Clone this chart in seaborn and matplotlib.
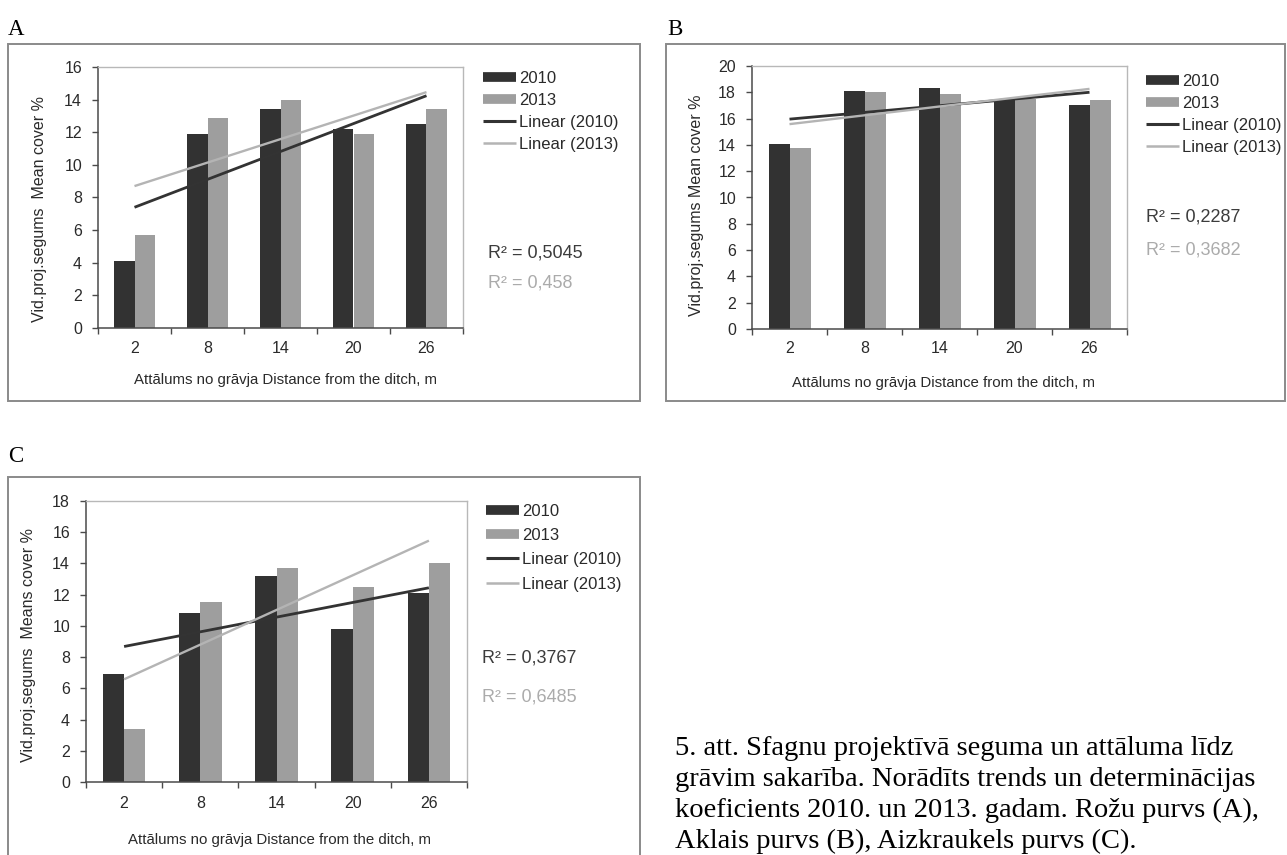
import numpy as np
import pandas as pd
import matplotlib
matplotlib.use("Agg")
import matplotlib.pyplot as plt
from matplotlib.lines import Line2D
from matplotlib.patches import Rectangle
import seaborn as sns

# ---- data -------------------------------------------------------------
distances = ["2", "8", "14", "20", "26"]
years = ["2010", "2013"]

rozu_2010 = [4.1, 11.9, 13.4, 12.2, 12.5]
rozu_2013 = [5.7, 12.9, 14.0, 11.9, 13.4]
aklais_2010 = [14.1, 18.1, 18.3, 17.4, 17.0]
aklais_2013 = [13.8, 18.0, 17.9, 17.5, 17.4]
aizkr_2010 = [6.9, 10.8, 13.2, 9.8, 12.1]
aizkr_2013 = [3.4, 11.5, 13.7, 12.5, 14.0]

r2_rozu = ["0,5045", "0,458"]
r2_aklais = ["0,2287", "0,3682"]
r2_aizkr = ["0,3767", "0,6485"]

ylabel_rozu = "Vid.proj.segums  Mean cover %"
ylabel_aklais = "Vid.proj.segums Mean cover %"
ylabel_aizkr = "Vid.proj.segums  Means cover %"
xlabel_text = "Attālums no grāvja Distance from the ditch, m"
legend_labels = ["2010", "2013", "Linear (2010)", "Linear (2013)"]
panel_letters = ["A", "B", "C"]
caption_lines = [
    "5. att. Sfagnu projektīvā seguma un attāluma līdz",
    "grāvim sakarība. Norādīts trends un determinācijas",
    "koeficients 2010. un 2013. gadam. Rožu purvs (A),",
    "Aklais purvs (B), Aizkraukels purvs (C).",
]

# ---- style ------------------------------------------------------------
sns.set_theme(style="white")
plt.rcParams["font.family"] = ["Liberation Sans", "DejaVu Sans"]

W, H = 1287, 855
DPI = 100
BAR_COLORS = ["#323232", "#9e9e9e"]
LINE_COLORS = ["#333333", "#b4b4b4"]
R2_COLORS = ["#3c3c3c", "#ababab"]
TEXT_COLOR = "#2a2a2a"


def fx(px):
    return px / W


def fy(py):
    return 1 - py / H


fig = plt.figure(figsize=(W / DPI, H / DPI), dpi=DPI)
fig.patch.set_facecolor("white")

panels = [
    dict(v2010=rozu_2010, v2013=rozu_2013, r2=r2_rozu, ylabel=ylabel_rozu,
         plot=(98, 67, 463, 328), ymax=16, box=(8, 44, 640, 401),
         letter=(8, 35), legend=(483, 71), legend_sp=0.42,
         r2pos=(488, 253, 283), ylab=(40, 209), xlab=(286, 380), xpad=9.5),
    dict(v2010=aklais_2010, v2013=aklais_2013, r2=r2_aklais, ylabel=ylabel_aklais,
         plot=(752, 66, 1127, 329), ymax=20, box=(666, 44, 1285, 401),
         letter=(667, 35), legend=(1146, 74), legend_sp=0.42,
         r2pos=(1146, 217, 250), ylab=(696, 205), xlab=(943, 383), xpad=8.5),
    dict(v2010=aizkr_2010, v2013=aizkr_2013, r2=r2_aizkr, ylabel=ylabel_aizkr,
         plot=(86, 501, 467, 782), ymax=18, box=(8, 477, 640, 870),
         letter=(8, 462), legend=(486, 504), legend_sp=0.55,
         r2pos=(482, 658, 697), ylab=(29, 645), xlab=(280, 840), xpad=10),
]

for letter, p in zip(panel_letters, panels):
    # outer frame of the chart
    bx0, by0, bx1, by1 = p["box"]
    fig.add_artist(Rectangle((fx(bx0), fy(by1)), (bx1 - bx0) / W, (by1 - by0) / H,
                             transform=fig.transFigure, fill=False,
                             edgecolor="#8a8a8a", lw=1.4))
    fig.text(fx(p["letter"][0]), fy(p["letter"][1]), letter,
             family="Liberation Serif", fontsize=16.5, color="black",
             ha="left", va="baseline")

    x0, y0, x1, y1 = p["plot"]
    ax = fig.add_axes([fx(x0), fy(y1), (x1 - x0) / W, (y1 - y0) / H])

    df = pd.DataFrame({
        "distance": distances * 2,
        "cover": list(p["v2010"]) + list(p["v2013"]),
        "year": [years[0]] * len(distances) + [years[1]] * len(distances),
    })
    sns.barplot(data=df, x="distance", y="cover", hue="year",
                order=distances, hue_order=years, palette=BAR_COLORS,
                width=0.56, gap=0, saturation=1, linewidth=0,
                errorbar=None, legend=False, ax=ax)

    # linear trend lines for each year
    pos = np.arange(len(distances))
    for vals, col, lw in zip([p["v2010"], p["v2013"]], LINE_COLORS, [2.0, 1.7]):
        sns.regplot(x=pos, y=np.asarray(vals, dtype=float), ax=ax,
                    scatter=False, ci=None, truncate=True, color=col,
                    line_kws={"lw": lw, "solid_capstyle": "butt", "zorder": 4})

    ax.set_xlim(-0.5, len(distances) - 0.5)
    ax.set_ylim(0, p["ymax"])
    ax.set_yticks(np.arange(0, p["ymax"] + 1, 2))
    ax.set_xticks(pos, labels=distances)
    ax.set_xticks(np.arange(-0.5, len(distances), 1), minor=True)
    ax.set_facecolor("white")
    ax.grid(False)

    for side in ["top", "right"]:
        ax.spines[side].set_color("#b8b8b8")
        ax.spines[side].set_linewidth(1.0)
    for side in ["left", "bottom"]:
        ax.spines[side].set_color("#4a4a4a")
        ax.spines[side].set_linewidth(1.1)

    ax.tick_params(axis="y", which="major", direction="out", length=4, width=1,
                   color="#4a4a4a", pad=7.5, labelsize=11.5, labelcolor=TEXT_COLOR,
                   left=True)
    ax.tick_params(axis="x", which="major", length=0, pad=p["xpad"],
                   labelsize=11.5, labelcolor=TEXT_COLOR)
    ax.tick_params(axis="x", which="minor", direction="out", length=4, width=1,
                   color="#4a4a4a", bottom=True)

    ax.set_ylabel(p["ylabel"], fontsize=11.5, color=TEXT_COLOR)
    ax.set_xlabel(xlabel_text, fontsize=10.8, color=TEXT_COLOR)
    ax.yaxis.set_label_coords((p["ylab"][0] - x0) / (x1 - x0),
                              (y1 - p["ylab"][1]) / (y1 - y0))
    ax.yaxis.label.set_va("center")
    ax.xaxis.set_label_coords((p["xlab"][0] - x0) / (x1 - x0),
                              (y1 - p["xlab"][1]) / (y1 - y0))
    ax.xaxis.label.set_va("center")

    # legend: bar swatches and trend lines
    handles = [
        Line2D([], [], color=BAR_COLORS[0], lw=7, solid_capstyle="butt"),
        Line2D([], [], color=BAR_COLORS[1], lw=7, solid_capstyle="butt"),
        Line2D([], [], color=LINE_COLORS[0], lw=2.2, solid_capstyle="butt"),
        Line2D([], [], color=LINE_COLORS[1], lw=1.8, solid_capstyle="butt"),
    ]
    ax.legend(handles, legend_labels, loc="upper left",
              bbox_to_anchor=(fx(p["legend"][0]), fy(p["legend"][1])),
              bbox_transform=fig.transFigure, frameon=False, fontsize=12,
              handlelength=2.0, handletextpad=0.15, labelspacing=p["legend_sp"],
              borderpad=0, borderaxespad=0, labelcolor=TEXT_COLOR)

    # coefficients of determination
    rx, ry1, ry2 = p["r2pos"]
    for txt, yy, col in zip(p["r2"], [ry1, ry2], R2_COLORS):
        fig.text(fx(rx), fy(yy), f"R² = {txt}", fontsize=13, color=col,
                 ha="left", va="center")

# figure caption
for i, line in enumerate(caption_lines):
    fig.text(fx(675), fy(755 + 31 * i), line, family="Liberation Serif",
             fontsize=20.5, color="black", ha="left", va="baseline")

fig.savefig("out.png", dpi=DPI, facecolor="white")
